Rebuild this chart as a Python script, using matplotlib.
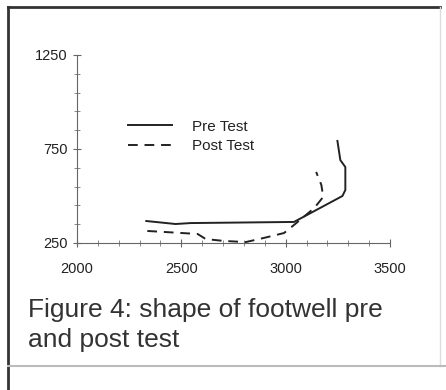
from matplotlib import pyplot as plt
from matplotlib.lines import Line2D

# pre test curve (solid)
pre_x = [2332, 2472, 2544, 3040, 3272, 3286, 3286, 3262, 3248]
pre_y = [367, 351, 356, 362, 500, 532, 654, 691, 793]

# post test curve (dashed)
post_x = [2337, 2414, 2578, 2617, 2703, 2809, 2896, 2992, 3040, 3137, 3180, 3171, 3146]
post_y = [314, 309, 298, 271, 261, 255, 277, 303, 346, 436, 495, 559, 628]

x_ticks = [2000, 2500, 3000, 3500]
y_ticks = [250, 750, 1250]

W, H = 446, 390
fig = plt.figure(figsize=(W/100, H/100), dpi=100)
plt.rcParams['font.family'] = ['Liberation Sans', 'DejaVu Sans']

ax = fig.add_axes([77/W, 1-243/H, (390-77)/W, (243-55)/H])
ax.plot(pre_x, pre_y, color='#222222', lw=1.4, label='Pre Test')
ax.plot(post_x, post_y, color='#222222', lw=1.4, ls=(0, (5, 3.5)), label='Post Test')

ax.set_xlim(2000, 3500)
ax.set_ylim(250, 1250)
ax.set_xticks(x_ticks)
ax.set_yticks(y_ticks)
ax.set_xticks(range(2000, 3501, 100), minor=True)
ax.set_yticks(range(250, 1251, 100), minor=True)
for s in ['top', 'right']:
    ax.spines[s].set_visible(False)
for s in ['left', 'bottom']:
    ax.spines[s].set_color('#666666')
    ax.spines[s].set_linewidth(0.8)
ax.tick_params(which='major', direction='inout', length=6, width=0.8, color='#666666',
               labelsize=10.5, labelcolor='#222222')
ax.tick_params(which='minor', direction='inout', length=4, width=0.6, color='#777777')
ax.tick_params(axis='x', pad=11)
ax.tick_params(axis='y', pad=4)

ax.legend(loc='upper left', bbox_to_anchor=(120/W, 1-112/H), bbox_transform=fig.transFigure,
          frameon=False, fontsize=11, handlelength=2.9, handletextpad=1.3,
          labelspacing=0.35, borderpad=0, labelcolor='#222222')

fig.text(28/W, 1-317/H, 'Figure 4: shape of footwell pre', fontsize=19,
         color='#333333', va='baseline', ha='left')
fig.text(28/W, 1-347/H, 'and post test', fontsize=19,
         color='#333333', va='baseline', ha='left')

# scanned page frame
fig.add_artist(Line2D([8/W, 8/W], [0, 1-7/H], transform=fig.transFigure, color='#333333', lw=2))
fig.add_artist(Line2D([8/W, 440/W], [1-7/H, 1-7/H], transform=fig.transFigure, color='#333333', lw=2))
fig.add_artist(Line2D([440/W, 440/W], [1-366/H, 1-7/H], transform=fig.transFigure, color='#dddddd', lw=1))
fig.add_artist(Line2D([8/W, 1], [1-366/H, 1-366/H], transform=fig.transFigure, color='#bbbbbb', lw=1.5))

fig.savefig('out.png', dpi=100)
